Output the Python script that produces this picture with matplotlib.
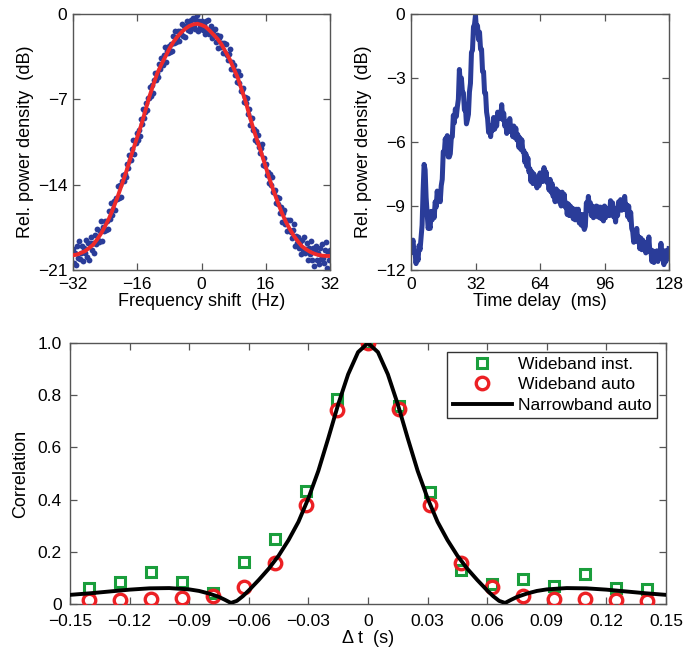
import numpy as np
import matplotlib
matplotlib.use("Agg")
import matplotlib.pyplot as plt

plt.rcParams['font.family'] = ['Liberation Sans', 'DejaVu Sans']
plt.rcParams['font.size'] = 12
plt.rcParams['axes.unicode_minus'] = True

# ---------------- Data: top-left (Doppler spectrum) ----------------
fit_freq = list(range(-32, 33))
fit_db = [-19.79, -19.73, -19.60, -19.45, -19.20, -18.93, -18.50, -18.00, -17.40, -16.75,
          -15.95, -15.10, -14.15, -13.20, -12.15, -11.10, -10.10, -9.10, -7.95, -6.80,
          -5.80, -4.85, -4.15, -3.50, -2.85, -2.30, -1.85, -1.50, -1.20, -0.98,
          -0.85, -0.80, -0.90, -1.05, -1.35, -1.70, -2.05, -2.50, -3.10, -3.70,
          -4.45, -5.20, -6.20, -7.20, -8.40, -9.50, -10.50, -11.50, -12.55, -13.60,
          -14.55, -15.45, -16.30, -17.05, -17.65, -18.20, -18.65, -19.05, -19.30, -19.50,
          -19.65, -19.76, -19.82, -19.85, -19.85]

dot_freq = [-32 + 0.25 * i for i in range(257)]
dot_db = [
    -19.3, -20.4, -19.6, -20.6, -19.0, -20.0, -18.6, -20.1,
    -19.6, -19.0, -20.3, -19.2, -19.6, -18.5, -19.9, -18.8,
    -20.2, -18.8, -18.3, -19.4, -18.8, -19.6, -18.1, -18.9,
    -17.6, -18.5, -18.7, -17.8, -17.0, -18.6, -17.5, -17.8,
    -17.0, -17.7, -17.0, -17.6, -16.2, -16.8, -15.5, -16.5,
    -16.0, -15.3, -16.1, -15.1, -15.2, -14.1, -15.1, -14.0,
    -15.0, -13.7, -13.2, -13.7, -13.1, -13.4, -12.3, -12.6,
    -11.6, -12.0, -12.0, -11.1, -10.3, -11.5, -10.4, -10.6,
    -9.8, -10.3, -9.5, -10.0, -8.6, -9.0, -7.8, -8.5,
    -8.0, -7.3, -7.9, -6.9, -6.9, -6.0, -6.7, -5.8,
    -6.5, -5.4, -4.8, -5.4, -4.8, -5.2, -4.1, -4.5,
    -3.6, -4.1, -4.2, -3.4, -2.7, -3.9, -3.0, -3.2,
    -2.6, -3.1, -2.5, -3.0, -1.8, -2.4, -1.4, -2.3,
    -1.9, -1.4, -2.2, -1.4, -1.6, -0.8, -1.8, -1.0,
    -1.9, -1.0, -0.6, -1.3, -0.9, -1.4, -0.5, -1.1,
    -0.3, -0.9, -1.2, -0.5, -0.05, -1.4, -0.6, -1.1,
    -0.6, -1.3, -0.9, -1.6, -0.6, -1.3, -0.5, -1.6,
    -1.4, -1.0, -2.0, -1.4, -1.8, -1.2, -2.3, -1.7,
    -2.8, -2.0, -1.8, -2.7, -2.4, -3.2, -2.4, -3.2,
    -2.5, -3.4, -3.8, -3.3, -2.9, -4.5, -3.9, -4.5,
    -4.2, -5.0, -4.7, -5.6, -4.7, -5.7, -5.0, -6.3,
    -6.2, -6.1, -7.2, -6.8, -7.3, -6.9, -8.2, -7.8,
    -9.1, -8.5, -8.5, -9.5, -9.4, -10.3, -9.6, -10.5,
    -9.9, -10.9, -11.4, -11.0, -10.7, -12.4, -11.8, -12.5,
    -12.3, -13.2, -13.0, -13.9, -13.1, -14.0, -13.4, -14.6,
    -14.6, -14.4, -15.5, -15.0, -15.6, -15.1, -16.3, -15.8,
    -17.1, -16.3, -16.1, -17.2, -16.9, -17.8, -16.9, -17.7,
    -16.9, -17.9, -18.4, -17.7, -17.2, -19.0, -18.2, -18.8,
    -18.3, -19.2, -18.7, -19.7, -18.5, -19.4, -18.3, -19.6,
    -19.3, -18.8, -20.2, -19.2, -19.7, -18.6, -20.2, -19.2,
    -20.7, -19.4, -19.0, -20.2, -19.6, -20.5, -19.2, -20.1,
    -18.9, -20.0, -20.4, -19.4, -18.7, -20.8, -19.6, -20.2,
    -19.4]

# ---------------- Data: top-right (delay profile) ----------------
delay_ms = [0.5 * i for i in range(257)]
delay_db = [
    -11.0, -10.85, -10.6, -11.2, -11.2, -11.7, -11.25, -11.55,
    -10.85, -11.05, -10.45, -9.9, -8.3, -7.05, -7.3, -8.6,
    -9.3, -10.05, -9.85, -10.05, -9.25, -9.65, -9.25, -9.55,
    -8.8, -9.05, -8.3, -8.75, -8.6, -8.8, -8.05, -7.75,
    -6.45, -6.55, -5.85, -6.3, -5.7, -6.7, -6.7, -6.55,
    -5.8, -5.75, -4.75, -5.1, -4.45, -4.8, -4.35, -4.0,
    -2.6, -3.3, -3.0, -3.65, -3.7, -4.5, -4.35, -5.15,
    -4.95, -4.7, -3.65, -3.25, -1.8, -1.7, -0.6, -0.5,
    -0.05, -0.8, -0.55, -1.2, -0.85, -1.65, -1.65, -2.7,
    -2.7, -3.7, -3.7, -4.6, -4.9, -5.55, -5.25, -5.75,
    -5.25, -5.45, -4.85, -5.4, -4.9, -5.25, -4.6, -4.9,
    -4.6, -4.9, -4.25, -4.95, -4.65, -5.25, -5.05, -5.6,
    -5.1, -5.5, -4.9, -5.4, -5.3, -5.75, -5.25, -5.8,
    -5.35, -5.9, -5.65, -6.25, -5.8, -6.35, -5.9, -6.45,
    -6.4, -6.95, -6.55, -7.15, -6.75, -7.4, -7.25, -7.85,
    -7.4, -7.95, -7.5, -7.9, -7.7, -8.15, -7.65, -8.05,
    -7.45, -7.85, -7.45, -7.85, -7.2, -7.8, -7.4, -7.9,
    -7.8, -8.25, -7.75, -8.35, -7.95, -8.55, -8.35, -8.8,
    -8.2, -8.75, -8.3, -8.8, -8.7, -9.0, -8.35, -8.9,
    -8.45, -9.05, -8.85, -9.4, -8.9, -9.45, -9.0, -9.35,
    -9.1, -9.6, -9.15, -9.65, -9.15, -9.55, -9.15, -9.8,
    -9.4, -9.9, -9.4, -9.95, -10.1, -9.95, -8.85, -9.2,
    -8.55, -9.1, -8.85, -9.45, -9.0, -9.55, -9.1, -9.35,
    -9.0, -9.5, -9.05, -9.55, -9.05, -9.6, -9.35, -9.7,
    -9.0, -9.55, -9.1, -9.45, -9.2, -9.45, -8.75, -9.3,
    -8.85, -9.5, -9.35, -9.75, -9.1, -9.45, -8.8, -9.05,
    -8.7, -9.2, -8.75, -9.15, -8.55, -9.15, -8.95, -9.5,
    -9.0, -9.65, -9.3, -10.05, -10.2, -10.7, -10.25, -10.65,
    -10.05, -10.65, -10.45, -11.0, -10.5, -11.05, -10.6, -10.95,
    -10.7, -11.2, -10.75, -11.1, -10.45, -11.15, -11.05, -11.6,
    -11.1, -11.65, -11.2, -11.45, -11.1, -11.6, -11.15, -11.45,
    -10.75, -11.45, -11.35, -11.75, -11.1, -11.6, -11.1, -11.35,
    -11.0]

# ---------------- Data: bottom (correlation) ----------------
lag_s = [-0.1406, -0.1250, -0.1094, -0.0938, -0.0781, -0.0625, -0.0469, -0.0313, -0.0156, 0.0,
         0.0156, 0.0313, 0.0469, 0.0625, 0.0781, 0.0938, 0.1094, 0.1250, 0.1406]
wideband_inst = [0.062, 0.083, 0.124, 0.083, 0.043, 0.160, 0.248, 0.433, 0.784, 1.0,
                 0.759, 0.428, 0.130, 0.077, 0.095, 0.070, 0.115, 0.060, 0.056]
wideband_auto = [0.015, 0.015, 0.018, 0.022, 0.031, 0.064, 0.156, 0.379, 0.743, 1.0,
                 0.746, 0.379, 0.156, 0.064, 0.031, 0.018, 0.018, 0.015, 0.011]

narrow_t = [-0.15, -0.14, -0.13, -0.12, -0.11, -0.10, -0.09, -0.085, -0.08, -0.075,
            -0.072, -0.069, -0.066, -0.063, -0.06, -0.055, -0.05, -0.045, -0.04, -0.035,
            -0.03, -0.025, -0.02, -0.015, -0.01, -0.005, 0.0,
            0.005, 0.01, 0.015, 0.02, 0.025, 0.03, 0.035, 0.04, 0.045, 0.05,
            0.055, 0.06, 0.063, 0.066, 0.069, 0.072, 0.075, 0.08, 0.085, 0.09,
            0.10, 0.11, 0.12, 0.13, 0.14, 0.15]
narrow_corr = [0.035, 0.041, 0.048, 0.055, 0.060, 0.061, 0.056, 0.050, 0.040, 0.027,
               0.016, 0.004, 0.012, 0.030, 0.052, 0.092, 0.135, 0.185, 0.245, 0.315,
               0.405, 0.510, 0.635, 0.765, 0.880, 0.965, 1.0,
               0.965, 0.880, 0.765, 0.635, 0.510, 0.405, 0.315, 0.245, 0.185, 0.135,
               0.092, 0.052, 0.030, 0.012, 0.004, 0.016, 0.027, 0.040, 0.050, 0.056,
               0.061, 0.060, 0.055, 0.048, 0.041, 0.035]

# ---------------- Figure ----------------
W, H = 685, 655
fig = plt.figure(figsize=(W / 100, H / 100), dpi=100)

def box(l, t, r, b):
    return [l / W, 1 - b / H, (r - l) / W, (b - t) / H]

frame_col = '#555555'
TICK_FS = 12.5
LAB_FS = 13

def style(ax, xpad=5, ypad=4):
    for s in ax.spines.values():
        s.set_color(frame_col)
        s.set_linewidth(1.0)
    ax.tick_params(direction='in', top=True, right=True, length=5, width=0.9,
                   color=frame_col, labelsize=TICK_FS)
    ax.tick_params(axis='x', pad=xpad)
    ax.tick_params(axis='y', pad=ypad)

def fmt(v, nd):
    if abs(v) < 1e-12:
        return '0'
    s = f'{abs(v):.{nd}f}'
    return ('\u2212' if v < 0 else '') + s

# top-left
ax1 = fig.add_axes(box(73, 14, 330, 270))
ax1.plot(dot_freq, dot_db, 'o', color='#2a3c99', ms=4.2, mew=0, zorder=2)
ax1.plot(fit_freq, fit_db, '-', color='#ee2a2a', lw=2.8, zorder=3)
ax1.set_xlim(-32, 32)
ax1.set_ylim(-21, 0)
xt = [-32, -16, 0, 16, 32]
yt = [-21, -14, -7, 0]
ax1.set_xticks(xt)
ax1.set_xticklabels([fmt(v, 0) for v in xt])
ax1.set_yticks(yt)
ax1.set_yticklabels([fmt(v, 0) for v in yt])
ax1.set_xlabel('Frequency shift  (Hz)', fontsize=LAB_FS, labelpad=1)
ax1.set_ylabel('Rel. power density  (dB)', fontsize=LAB_FS, labelpad=3)
style(ax1)

# top-right
ax2 = fig.add_axes(box(411, 14, 669, 270))
ax2.plot(delay_ms, delay_db, '-', color='#2a3c99', lw=3.6, solid_joinstyle='round')
ax2.set_xlim(0, 128)
ax2.set_ylim(-12, 0)
xt2 = [0, 32, 64, 96, 128]
yt2 = [-12, -9, -6, -3, 0]
ax2.set_xticks(xt2)
ax2.set_xticklabels([fmt(v, 0) for v in xt2])
ax2.set_yticks(yt2)
ax2.set_yticklabels([fmt(v, 0) for v in yt2])
ax2.set_xlabel('Time delay  (ms)', fontsize=LAB_FS, labelpad=1)
ax2.set_ylabel('Rel. power density  (dB)', fontsize=LAB_FS, labelpad=3)
style(ax2)

# bottom
ax3 = fig.add_axes(box(70, 343, 666, 604))
ax3.plot(lag_s, wideband_inst, 's', mfc='none', mec='#1a9e3c', ms=7.5, mew=2.2,
         label='Wideband inst.', zorder=3)
ax3.plot(lag_s, wideband_auto, 'o', mfc='none', mec='#ec2024', ms=9, mew=2.4,
         label='Wideband auto', zorder=4)
ax3.plot(narrow_t, narrow_corr, '-', color='black', lw=2.8, label='Narrowband auto', zorder=5)
ax3.set_xlim(-0.15, 0.15)
ax3.set_ylim(0, 1.0)
xt3 = [-0.15, -0.12, -0.09, -0.06, -0.03, 0, 0.03, 0.06, 0.09, 0.12, 0.15]
yt3 = [0, 0.2, 0.4, 0.6, 0.8, 1.0]
ax3.set_xticks(xt3)
ax3.set_xticklabels([fmt(v, 2) for v in xt3])
ax3.set_yticks(yt3)
ax3.set_yticklabels([fmt(v, 1) for v in yt3])
ax3.set_xlabel('\u0394 t  (s)', fontsize=LAB_FS, labelpad=1)
ax3.set_ylabel('Correlation', fontsize=LAB_FS, labelpad=6)
style(ax3, xpad=7, ypad=6)
leg = ax3.legend(loc='upper right', fontsize=12.5, frameon=True, fancybox=False,
                 edgecolor='black', handlelength=3.4, handletextpad=0.4,
                 borderaxespad=0.5, labelspacing=0.3, borderpad=0.3)
leg.get_frame().set_linewidth(1.0)

fig.savefig('out.png', dpi=100)
